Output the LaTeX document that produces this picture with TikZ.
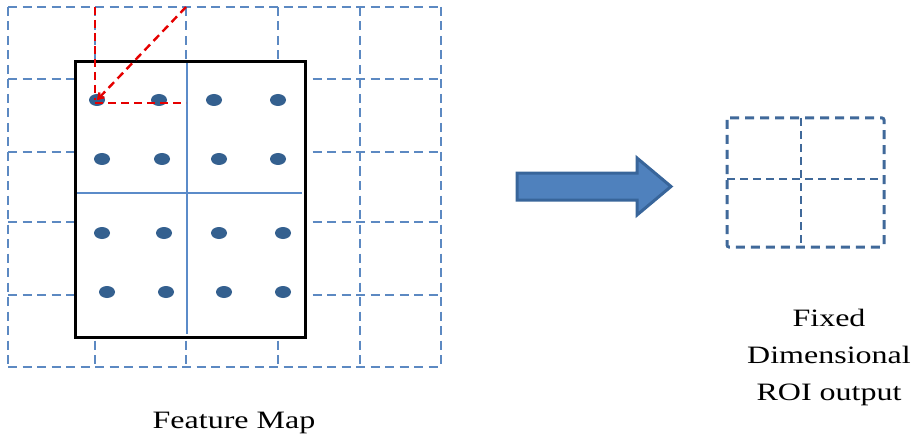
\documentclass[tikz,border=0pt]{standalone}
\usepackage{fontspec}
\setmainfont{Liberation Serif}
\usetikzlibrary{arrows.meta,shapes.geometric}
\definecolor{gridblue}{HTML}{5C89C2}
\definecolor{lineblue}{HTML}{5B8BC9}
\definecolor{dotblue}{HTML}{34608F}
\definecolor{arrowfill}{HTML}{4F81BD}
\definecolor{arrowedge}{HTML}{38659A}
\definecolor{outblue}{HTML}{40699A}
\tikzset{
  gridline/.style={gridblue, line width=2.3pt, dash pattern=on 9pt off 5.5pt},
  roibox/.style={draw=black, line width=3pt, fill=white},
  binline/.style={lineblue, line width=2pt},
  sample/.style={ellipse, fill=dotblue, minimum width=16pt, minimum height=12pt, inner sep=0pt},
  redline/.style={red!90!black, line width=2.4pt, dash pattern=on 8pt off 5pt},
  outgrid/.style={outblue, line width=2pt, dash pattern=on 8pt off 5pt},
  outframe/.style={outblue, line width=3pt, dash pattern=on 9pt off 6pt, rounded corners=2pt},
  caption/.style={font=\fontsize{25}{37}\selectfont, align=center, xscale=1.28, transform shape},
}
\begin{document}
\begin{tikzpicture}[x=1pt, y=-1pt]
  \useasboundingbox (0,0) rectangle (921,441);

  % feature map cells
  \foreach \x in {8,95,186,278,360,441}
    \draw[gridline] (\x,7) -- (\x,367);
  \foreach \y in {7,79,152,222,295,367}
    \draw[gridline] (8,\y) -- (441,\y);

  % region of interest, split into 2x2 bins
  \node[roibox, draw=none, minimum width=227pt, minimum height=272pt, inner sep=0pt, anchor=north west] (roi) at (75,62) {};
  \draw[binline] (187,62) -- (187,334);
  \draw[binline] (75,193) -- (302,193);
  \draw[black, line width=3pt] (roi.north west) rectangle (roi.south east);

  % sampling points
  \node[sample] (p11) at (97,100) {};
  \node[sample] (p12) at (159,100) {};
  \node[sample] (p13) at (214,100) {};
  \node[sample] (p14) at (278,100) {};
  \node[sample] (p21) at (102,159) {};
  \node[sample] (p22) at (162,159) {};
  \node[sample] (p23) at (219,159) {};
  \node[sample] (p24) at (278,159) {};
  \node[sample] (p31) at (102,233) {};
  \node[sample] (p32) at (164,233) {};
  \node[sample] (p33) at (219,233) {};
  \node[sample] (p34) at (283,233) {};
  \node[sample] (p41) at (107,292) {};
  \node[sample] (p42) at (166,292) {};
  \node[sample] (p43) at (224,292) {};
  \node[sample] (p44) at (283,292) {};

  % bilinear interpolation from neighbouring cell corners
  \coordinate (cA) at (95,7);
  \coordinate (cA2) at (95,100);
  \coordinate (cB) at (186,7);
  \coordinate (cD) at (95,103);
  \coordinate (cC) at (186,103);
  \draw[redline] (cA) -- (cA2);
  \draw[redline, -{Straight Barb[length=5pt, width=7pt]}] (cB) -- (p11.center);
  \draw[redline] (cD) -- (cC);

  % transition arrow
  \draw[arrowedge, fill=arrowfill, line width=3pt, line join=miter]
    (517,173) -- (637,173) -- (637,158) -- (671,186.5) -- (637,215) -- (637,200) -- (517,200) -- cycle;

  % fixed size output
  \coordinate (o1) at (727,118);
  \coordinate (o2) at (884,247);
  \draw[outgrid] (801,118) -- (801,247);
  \draw[outgrid] (727,179) -- (884,179);
  \draw[outframe] (o1) rectangle (o2);

  % captions
  \node[caption] (fmap) at (234,423) {Feature Map};
  \node[caption] (outlbl) at (829,357) {Fixed\\Dimensional\\ROI output};
\end{tikzpicture}
\end{document}
